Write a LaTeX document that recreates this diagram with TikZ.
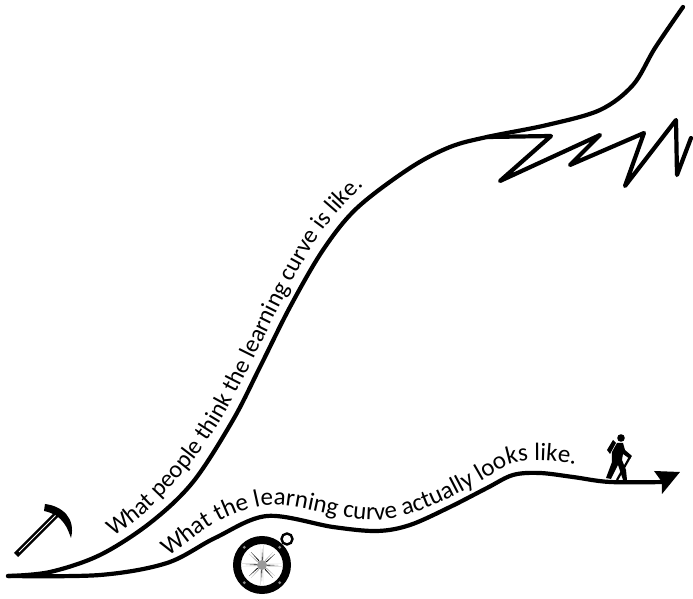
\documentclass[tikz,border=0pt]{standalone}
\usepackage{fontspec}
\setmainfont{Carlito}
\usetikzlibrary{decorations.text}
\tikzset{
  curveline/.style={line width=2.1pt,line cap=round,line join=round},
  curvetext/.style={decorate,decoration={text along path,text align={left},text={#1}}},
  starblack/.style={fill=black},
  stargray/.style={fill=black!30},
}
\begin{document}
\begin{tikzpicture}[x=0.5pt,y=-0.5pt]
  \useasboundingbox (0,0) rectangle (693,599);
  % what people think
  \draw[curveline] plot[smooth,tension=0.55] coordinates {(8,576) (50,572) (100,555) (150,523) (193,482) (233,420) (260,367) (290,307) (323,250) (357,208) (410,168) (450,147) (487,137) (547,125) (600,110) (633,85) (655,48) (683,7)};
  \draw[curveline] (487,137) -- (551,136) -- (500,181) -- (600,135) -- (570,165) -- (644,133) -- (625,186) -- (676,120) -- (677,175) -- (691,138);
  % what it looks like
  \draw[curveline] plot[smooth,tension=0.55] coordinates {(8,576) (100,575) (167,563) (215,538) (267,516) (333,527) (377,531) (410,525) (450,507) (487,488) (513,475) (540,473) (573,477) (610,482) (665,482)};
  \fill (680,472) -- (654,471) -- (662,482) -- (662,494) -- cycle;
  % labels
  \path[curvetext={|\fontsize{12.2pt}{14pt}\selectfont|What people think the learning curve is like.}]
    (113,536) .. controls (150,515) and (195,465) .. (224,415) .. controls (250,370) and (280,300) .. (313,245) .. controls (328,222) and (345,200) .. (380,172);
  \path[curvetext={|\fontsize{12.5pt}{14pt}\selectfont|What the learning curve actually looks like.}]
    (168,556) .. controls (190,545) and (210,515) .. (265,505) .. controls (300,503) and (335,520) .. (377,520) .. controls (420,518) and (470,488) .. (510,464) .. controls (530,458) and (555,460) .. (585,466);
  % pick
  \draw[line width=3pt] (16,555) -- (58,513);
  \draw[white,line width=0.5pt] (19,552) -- (57,514);
  \fill (45,504) .. controls (62,506) and (76,518) .. (71,538) .. controls (68,530) and (64,515) .. (44,511) -- cycle;
  % compass
  \draw[line width=1.2pt] (287,539) circle (5.5);
  \draw[line width=4pt] (262,565) circle (25);
  \foreach \a in {45,135,225,315}
    \fill[black!45] (262,565) ++(\a:25) circle (1.6);
  \foreach \a in {0,90,180,270}{
    \fill[starblack] (262,565) -- ++(\a+10:7) -- ++(\a:13) -- cycle;
    \fill[stargray] (262,565) -- ++(\a-10:7) -- ++(\a:13) -- cycle;
    \fill[starblack] (262,565) -- ++(\a+45+12:6) -- ++(\a+45:11) -- cycle;
    \fill[stargray] (262,565) -- ++(\a+45-12:6) -- ++(\a+45:11) -- cycle;
  }
  \fill[black!40] (262,565) circle (5);
  % hiker
  \fill (621,438) circle (3.8);
  \fill (607,450) -- (613,440) -- (616,443) -- (610,454) -- cycle;
  \fill (617,443) -- (623,443) -- (625,450) -- (632,456) -- (630,459) -- (623,454) -- (622,460) -- (626,470) -- (627,480) -- (623,480) -- (618,465) -- (611,479) -- (606,478) -- (612,462) -- (612,452) -- cycle;
  \draw[line width=1.1pt] (630,457) -- (617,480);
\end{tikzpicture}
\end{document}
